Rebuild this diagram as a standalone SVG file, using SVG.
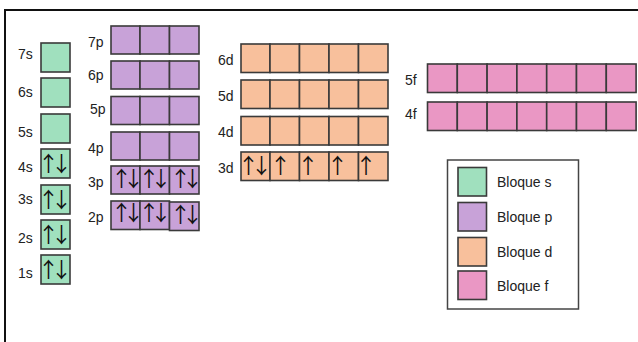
<svg xmlns="http://www.w3.org/2000/svg" width="638" height="342" viewBox="0 0 638 342">
<style>
.lbl{font-family:"Liberation Sans",Arial,sans-serif;font-size:14px;fill:#222}
.leg{font-family:"Liberation Sans",Arial,sans-serif;font-size:14px;fill:#222}
.arr{font-family:"Noto Sans CJK JP","Noto Sans CJK SC",sans-serif;font-size:21px;letter-spacing:-8px;fill:#111}
.arrp{letter-spacing:-9px}
.c{stroke:#3a3a3a;stroke-width:1.6}
.s{fill:#a0e0be}.p{fill:#c8a2d8}.d{fill:#f8c09c}.f{fill:#ea97c4}
</style>
<rect width="638" height="342" fill="#fff"/>
<rect x="5" y="10" width="660" height="360" fill="none" stroke="#111" stroke-width="2"/>

<g id="s-block">
<g id="s7"><text class="lbl" x="18" y="59">7s</text><rect class="c s" x="41" y="43" width="29" height="29"/></g>
<g id="s6"><text class="lbl" x="18" y="97">6s</text><rect class="c s" x="41" y="78" width="29" height="29"/></g>
<g id="s5"><text class="lbl" x="18" y="137">5s</text><rect class="c s" x="41" y="114" width="29" height="29"/></g>
<g id="s4"><text class="lbl" x="18" y="172">4s</text><rect class="c s" x="41" y="149" width="29" height="29"/><text class="arr" x="38" y="171">↑↓</text></g>
<g id="s3"><text class="lbl" x="18" y="204">3s</text><rect class="c s" x="41" y="185" width="29" height="29"/><text class="arr" x="38" y="207">↑↓</text></g>
<g id="s2"><text class="lbl" x="18" y="243">2s</text><rect class="c s" x="41" y="220" width="29" height="29"/><text class="arr" x="38" y="242">↑↓</text></g>
<g id="s1"><text class="lbl" x="18" y="278">1s</text><rect class="c s" x="41" y="255" width="29" height="29"/><text class="arr" x="38" y="277">↑↓</text></g>
</g>

<g id="p-block">
<g id="p7"><text class="lbl" x="88" y="47">7p</text><rect class="c p" x="111" y="26" width="29" height="28"/><rect class="c p" x="140" y="26" width="29.5" height="28"/><rect class="c p" x="169.5" y="26" width="29.5" height="28"/></g>
<g id="p6"><text class="lbl" x="88" y="80">6p</text><rect class="c p" x="111" y="61" width="29" height="28"/><rect class="c p" x="140" y="61" width="29.5" height="28"/><rect class="c p" x="169.5" y="61" width="29.5" height="28"/></g>
<g id="p5"><text class="lbl" x="90" y="114">5p</text><rect class="c p" x="111" y="96.5" width="29" height="28"/><rect class="c p" x="140" y="96.5" width="29.5" height="28"/><rect class="c p" x="169.5" y="96.5" width="29.5" height="28"/></g>
<g id="p4"><text class="lbl" x="88" y="153">4p</text><rect class="c p" x="111" y="132" width="29" height="28"/><rect class="c p" x="140" y="132" width="29.5" height="28"/><rect class="c p" x="169.5" y="132" width="29.5" height="28"/></g>
<g id="p3"><text class="lbl" x="88" y="187">3p</text><rect class="c p" x="111" y="166" width="29" height="28"/><rect class="c p" x="140" y="166" width="29.5" height="28"/><rect class="c p" x="169.5" y="166" width="29.5" height="28"/>
<text class="arr arrp" x="111" y="186">↑↓</text><text class="arr arrp" x="138.5" y="186">↑↓</text><text class="arr arrp" x="170" y="186">↑↓</text></g>
<g id="p2"><text class="lbl" x="88" y="222">2p</text><rect class="c p" x="111" y="201" width="29" height="28.5"/><rect class="c p" x="140" y="201" width="29.5" height="28.5"/><rect class="c p" x="169.5" y="202" width="29.5" height="28.5"/>
<text class="arr arrp" x="111" y="220">↑↓</text><text class="arr arrp" x="138.5" y="220">↑↓</text><text class="arr arrp" x="170" y="221.5">↑↓</text></g>
</g>

<g id="d-block">
<g id="d6"><text class="lbl" x="218" y="65">6d</text><rect class="c d" x="241" y="44" width="29" height="28.5"/><rect class="c d" x="270" y="44" width="29.5" height="28.5"/><rect class="c d" x="299.5" y="44" width="29.5" height="28.5"/><rect class="c d" x="329" y="44" width="29.5" height="28.5"/><rect class="c d" x="358.5" y="44" width="29.5" height="28.5"/></g>
<g id="d5"><text class="lbl" x="218" y="101">5d</text><rect class="c d" x="241" y="80" width="29" height="28.5"/><rect class="c d" x="270" y="80" width="29.5" height="28.5"/><rect class="c d" x="299.5" y="80" width="29.5" height="28.5"/><rect class="c d" x="329" y="80" width="29.5" height="28.5"/><rect class="c d" x="358.5" y="80" width="29.5" height="28.5"/></g>
<g id="d4"><text class="lbl" x="218" y="137">4d</text><rect class="c d" x="241" y="116.5" width="29" height="28.5"/><rect class="c d" x="270" y="116.5" width="29.5" height="28.5"/><rect class="c d" x="299.5" y="116.5" width="29.5" height="28.5"/><rect class="c d" x="329" y="116.5" width="29.5" height="28.5"/><rect class="c d" x="358.5" y="116.5" width="29.5" height="28.5"/></g>
<g id="d3"><text class="lbl" x="218" y="173">3d</text><rect class="c d" x="241" y="152" width="29" height="28.5"/><rect class="c d" x="270" y="152" width="29.5" height="28.5"/><rect class="c d" x="299.5" y="152" width="29.5" height="28.5"/><rect class="c d" x="329" y="152" width="29.5" height="28.5"/><rect class="c d" x="358.5" y="152" width="29.5" height="28.5"/>
<text class="arr" x="238" y="173">↑↓</text><text class="arr" x="270" y="173">↑</text><text class="arr" x="297.5" y="173">↑</text><text class="arr" x="327" y="173">↑</text><text class="arr" x="355.5" y="173">↑</text></g>
</g>

<g id="f-block">
<g id="f5"><text class="lbl" x="405" y="85">5f</text><rect class="c f" x="427.5" y="64" width="29.8" height="28.5"/><rect class="c f" x="457.3" y="64" width="29.8" height="28.5"/><rect class="c f" x="487.1" y="64" width="29.8" height="28.5"/><rect class="c f" x="516.9" y="64" width="29.8" height="28.5"/><rect class="c f" x="546.7" y="64" width="29.8" height="28.5"/><rect class="c f" x="576.5" y="64" width="29.8" height="28.5"/><rect class="c f" x="606.3" y="64" width="29.8" height="28.5"/></g>
<g id="f4"><text class="lbl" x="405" y="119">4f</text><rect class="c f" x="427.5" y="102" width="29.8" height="28.5"/><rect class="c f" x="457.3" y="102" width="29.8" height="28.5"/><rect class="c f" x="487.1" y="102" width="29.8" height="28.5"/><rect class="c f" x="516.9" y="102" width="29.8" height="28.5"/><rect class="c f" x="546.7" y="102" width="29.8" height="28.5"/><rect class="c f" x="576.5" y="102" width="29.8" height="28.5"/><rect class="c f" x="606.3" y="102" width="29.8" height="28.5"/></g>
</g>

<g id="legend">
<rect x="447.5" y="160" width="131" height="149" fill="#fff" stroke="#444" stroke-width="1.5"/>
<g id="leg-s"><rect class="c s" x="458" y="167.5" width="28.5" height="28.5"/><text class="leg" x="497" y="187">Bloque s</text></g>
<g id="leg-p"><rect class="c p" x="458" y="202.5" width="28.5" height="28.5"/><text class="leg" x="497" y="221.5">Bloque p</text></g>
<g id="leg-d"><rect class="c d" x="458" y="237.5" width="28.5" height="28.5"/><text class="leg" x="497" y="257">Bloque d</text></g>
<g id="leg-f"><rect class="c f" x="458" y="271" width="28.5" height="28.5"/><text class="leg" x="497" y="291">Bloque f</text></g>
</g>
</svg>
